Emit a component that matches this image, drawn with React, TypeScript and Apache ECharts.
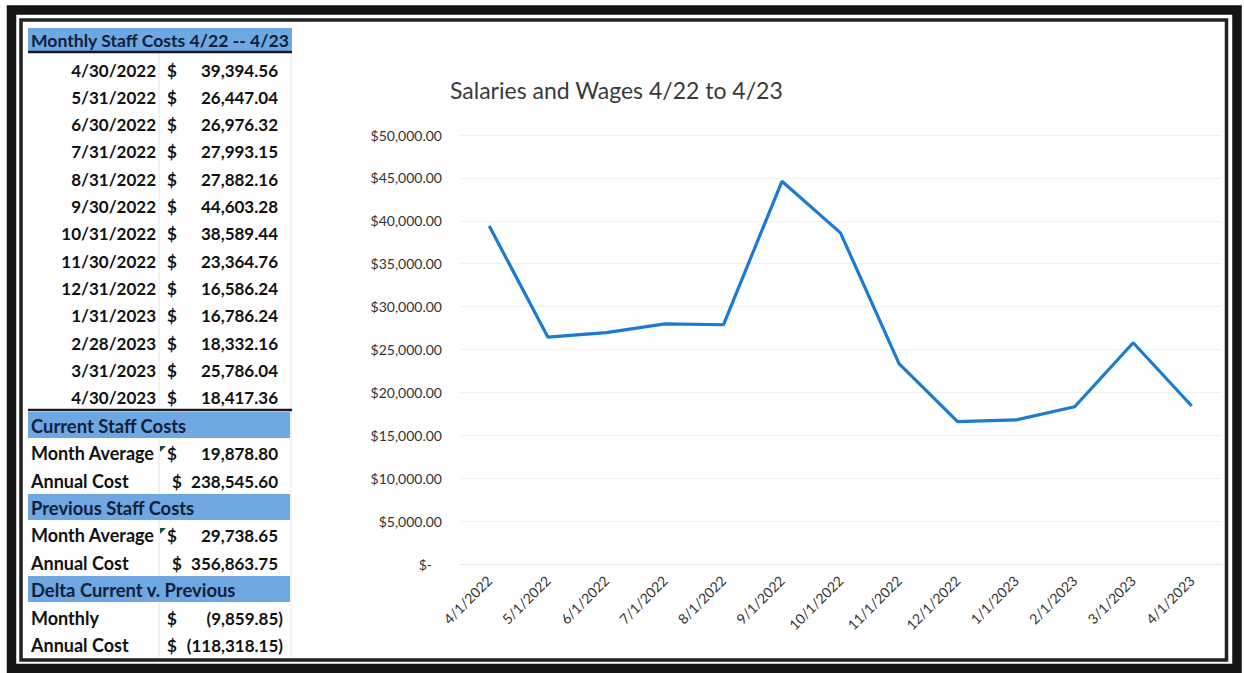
import React, { useEffect, useRef } from "react";
import * as echarts from "echarts";

const categories = ["4/1/2022", "5/1/2022", "6/1/2022", "7/1/2022", "8/1/2022", "9/1/2022", "10/1/2022", "11/1/2022", "12/1/2022", "1/1/2023", "2/1/2023", "3/1/2023", "4/1/2023"];
const values = [39394.56, 26447.04, 26976.32, 27993.15, 27882.16, 44603.28, 38589.44, 23364.76, 16586.24, 16786.24, 18332.16, 25786.04, 18417.36];
const tableDates = ["4/30/2022", "5/31/2022", "6/30/2022", "7/31/2022", "8/31/2022", "9/30/2022", "10/31/2022", "11/30/2022", "12/31/2022", "1/31/2023", "2/28/2023", "3/31/2023", "4/30/2023"];
const tableValues = ["39,394.56", "26,447.04", "26,976.32", "27,993.15", "27,882.16", "44,603.28", "38,589.44", "23,364.76", "16,586.24", "16,786.24", "18,332.16", "25,786.04", "18,417.36"];
const tableHeader = "Monthly Staff Costs 4/22 -- 4/23";
const sectionTitles = ["Current Staff Costs", "Previous Staff Costs", "Delta Current v. Previous"];
const summaryLabels = ["Month Average", "Annual Cost", "Month Average", "Annual Cost", "Monthly", "Annual Cost"];
const summaryValues = ["19,878.80", "238,545.60", "29,738.65", "356,863.75", "(9,859.85)", "(118,318.15)"];
const chartTitle = "Salaries and Wages 4/22 to 4/23";

const FONT = "Lato, 'Open Sans', sans-serif";
const BLUE_BAND = "#6ea7e2";

export default function App() {
  const ref = useRef<HTMLDivElement>(null);
  useEffect(() => {
    if (!ref.current) return;
    const chart = echarts.init(ref.current, null, { renderer: "svg" });
    const g: any[] = [];
    const tStyle = (text: string, x: number, y: number, align: string, extra: any = {}) => ({
      type: "text",
      x,
      y,
      z: 5,
      style: {
        text,
        fill: "#111",
        font: `bold 17px ${FONT}`,
        textAlign: align,
        textVerticalAlign: "middle",
        ...extra,
      },
    });
    // frame
    g.push({ type: "rect", z: 1, shape: { x: 11.5, y: 10, width: 1225.5, height: 658.5 }, style: { fill: "none", stroke: "#141414", lineWidth: 9.5 } });
    g.push({ type: "rect", z: 1, shape: { x: 21, y: 20, width: 1205.5, height: 640 }, style: { fill: "none", stroke: "#222", lineWidth: 3.5 } });
    // faint cell lines
    g.push({ type: "line", z: 1, shape: { x1: 159, y1: 53, x2: 159, y2: 657 }, style: { stroke: "#e4e4e4", lineWidth: 1 } });
    g.push({ type: "line", z: 1, shape: { x1: 291, y1: 53, x2: 291, y2: 657 }, style: { stroke: "#e4e4e4", lineWidth: 1 } });
    // header band
    g.push({ type: "rect", z: 2, shape: { x: 28, y: 28, width: 264, height: 23 }, style: { fill: BLUE_BAND } });
    g.push({ type: "line", z: 3, shape: { x1: 28, y1: 52, x2: 292, y2: 52 }, style: { stroke: "#1a1a1a", lineWidth: 2.5 } });
    g.push(tStyle(tableHeader, 31, 40, "left", { font: `bold 17.6px ${FONT}`, fill: "#10203a" }));
    const rowH = 27.3;
    tableDates.forEach((d, i) => {
      const y = 70 + i * rowH;
      g.push(tStyle(d, 156, y, "right"));
      g.push(tStyle("$", 167, y, "left"));
      g.push(tStyle(tableValues[i], 278, y, "right"));
    });
    g.push({ type: "line", z: 3, shape: { x1: 28, y1: 410, x2: 292, y2: 410 }, style: { stroke: "#1a1a1a", lineWidth: 2.5 } });
    const bandYs = [412, 494, 576];
    sectionTitles.forEach((t, k) => {
      g.push({ type: "rect", z: 2, shape: { x: 28, y: bandYs[k], width: 262, height: 26 }, style: { fill: BLUE_BAND } });
      g.push(tStyle(t, 31, bandYs[k] + 14, "left", { font: `bold 18.4px ${FONT}`, fill: "#10203a" }));
    });
    const sumYs = [453, 481, 535, 563, 618, 645];
    const dollarX = [167, 172, 167, 172, 167, 167];
    const valRight = [278, 278, 278, 278, 283, 283];
    summaryLabels.forEach((l, i) => {
      g.push(tStyle(l, 31, sumYs[i], "left", { font: `bold 18px ${FONT}` }));
      g.push(tStyle("$", dollarX[i], sumYs[i], "left"));
      g.push(tStyle(summaryValues[i], valRight[i], sumYs[i], "right"));
    });
    // comment indicators
    [446, 528].forEach((y) => {
      g.push({ type: "polygon", z: 4, shape: { points: [[160, y], [166, y], [160, y + 6]] }, style: { fill: "#1f4a4a" } });
    });

    chart.setOption({
      animation: false,
      backgroundColor: "#ffffff",
      title: {
        text: chartTitle,
        left: 445,
        top: 73,
        textStyle: { fontFamily: FONT, fontSize: 23, fontWeight: "normal", color: "#3a3a3a" },
      },
      grid: { left: 460, right: 23, top: 135, bottom: 109, containLabel: false },
      xAxis: {
        type: "category",
        data: categories,
        boundaryGap: true,
        axisLine: { show: true, lineStyle: { color: "#e6e6e6" } },
        axisTick: { show: false },
        axisLabel: { rotate: 45, interval: 0, margin: 14, fontFamily: FONT, fontSize: 14, color: "#333" },
      },
      yAxis: {
        type: "value",
        min: 0,
        max: 50000,
        interval: 5000,
        axisLine: { show: false },
        axisTick: { show: false },
        splitLine: { lineStyle: { color: "#f0f0f0" } },
        axisLabel: {
          margin: 18,
          fontFamily: FONT,
          fontSize: 14,
          color: "#333",
          formatter: (v: number) =>
            v === 0
              ? "{z|$-}"
              : "$" + v.toLocaleString("en-US", { minimumFractionDigits: 2, maximumFractionDigits: 2 }),
          rich: { z: { fontFamily: FONT, fontSize: 14, color: "#333", padding: [0, 10, 0, 0] } },
        },
      },
      series: [
        {
          type: "line",
          data: values,
          showSymbol: false,
          symbol: "none",
          lineStyle: { color: "#1b7ad2", width: 3.2 },
        },
      ],
      graphic: g,
    });
    return () => chart.dispose();
  }, []);
  return <div ref={ref} style={{ position: "fixed", left: 0, top: 0, width: 1244, height: 673, background: "#fff" }} />;
}
